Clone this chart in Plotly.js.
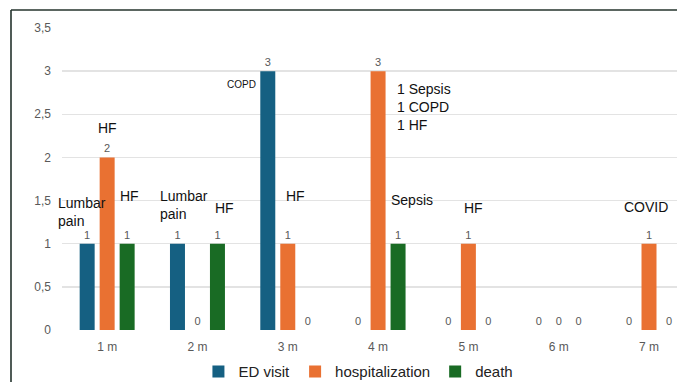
<!DOCTYPE html>
<html>
<head>
<meta charset="utf-8">
<script src="https://cdn.plot.ly/plotly-3.0.1.min.js"></script>
<style>
  html, body { margin: 0; padding: 0; background: #fff; }
  #chart { width: 677px; height: 382px; }
</style>
</head>
<body>
<div id="chart"></div>
<script>
// ---- data ----
const categories = ['1 m', '2 m', '3 m', '4 m', '5 m', '6 m', '7 m'];
const edVisit = [1, 1, 3, 0, 0, 0, 0];
const hospitalization = [2, 0, 1, 3, 1, 0, 1];
const death = [1, 1, 0, 1, 0, 0, 0];
const yTickValues = [0, 0.5, 1, 1.5, 2, 2.5, 3, 3.5];
const seriesNames = ['ED visit', 'hospitalization', 'death'];

// cause notes written next to bars
const noteTexts = ['Lumbar<br>pain', 'HF', 'HF', 'Lumbar<br>pain', 'HF', 'COPD', 'HF',
                   '1 Sepsis<br>1 COPD<br>1 HF', 'Sepsis', 'HF', 'COVID'];
const noteCategoryIndex = [0, 0, 0, 1, 1, 2, 2, 3, 3, 4, 6];

// ---- style / placement ----
const FONT = 'Liberation Sans, Arial, sans-serif';
const colors = ['#156082', '#E97132', '#196B24'];
const CAT_PX = 615 / 6.81;   // pixel width of one category
// offsets from category centre (category units), y in data units
const notePlacement = [
  {dx: -0.570, y: 1.372, xa: 'left'},
  {dx: 0.000, y: 2.340, xa: 'center'},
  {dx: 0.244, y: 1.551, xa: 'center'},
  {dx: -0.441, y: 1.447, xa: 'left'},
  {dx: 0.301, y: 1.412, xa: 'center'},
  {dx: -0.333, y: 2.850, xa: 'right', size: 10},
  {dx: 0.087, y: 1.551, xa: 'center'},
  {dx: 0.184, y: 2.584, xa: 'left'},
  {dx: 0.378, y: 1.505, xa: 'center'},
  {dx: 0.059, y: 1.412, xa: 'center'},
  {dx: -0.037, y: 1.423, xa: 'center'}
];

const values = [edVisit, hospitalization, death];
const traces = values.map((v, i) => ({
  type: 'bar',
  name: seriesNames[i],
  x: categories,
  y: v,
  marker: {color: colors[i]},
  texttemplate: '%{y}',
  textposition: 'outside',
  textfont: {family: FONT, size: 11, color: '#595959'},
  cliponaxis: false,
  hoverinfo: 'skip'
}));

const annotations = noteTexts.map((t, i) => ({
  text: t,
  x: noteCategoryIndex[i],
  xshift: notePlacement[i].dx * CAT_PX,
  y: notePlacement[i].y,
  xref: 'x', yref: 'y',
  xanchor: notePlacement[i].xa,
  yanchor: 'middle',
  align: 'left',
  showarrow: false,
  font: {family: FONT, size: notePlacement[i].size || 14, color: '#111111'}
}));

const layout = {
  width: 677, height: 382,
  margin: {l: 62, r: 0, t: 28, b: 52.3, pad: 0, autoexpand: false},
  paper_bgcolor: '#ffffff',
  plot_bgcolor: '#ffffff',
  separators: ', ',
  font: {family: FONT, color: '#595959'},
  barmode: 'group',
  bargap: 0.336,
  bargroupgap: 0.25,
  showlegend: true,
  legend: {
    orientation: 'h',
    x: 0.482, xanchor: 'center',
    y: -0.138, yanchor: 'middle',
    font: {family: FONT, size: 15, color: '#222222'},
    itemwidth: 30,
    traceorder: 'normal'
  },
  xaxis: {
    type: 'category',
    range: [-0.5, 6.31],
    showgrid: false,
    zeroline: false,
    showline: false,
    ticks: '',
    tickfont: {family: FONT, size: 12, color: '#595959'},
    ticklabelstandoff: 8,
    fixedrange: true
  },
  yaxis: {
    range: [0, 3.5],
    tickvals: yTickValues,
    ticktext: yTickValues.map(v => String(v).replace('.', ',')),
    showgrid: true,
    gridcolor: '#e3e3e3',
    gridwidth: 1.3,
    zeroline: false,
    showline: false,
    ticks: '',
    tickfont: {family: FONT, size: 12, color: '#595959'},
    ticklabelstandoff: 10,
    fixedrange: true
  },
  annotations: annotations,
  shapes: [
    {type: 'line', xref: 'paper', yref: 'paper',
     x0: (11 - 62) / 615, x1: (11 - 62) / 615, y0: 1.0597, y1: -0.2,
     line: {color: '#24332c', width: 1.6}},
    {type: 'line', xref: 'paper', yref: 'paper',
     x0: (11 - 62) / 615, x1: 1.05, y0: 1.0597, y1: 1.0597,
     line: {color: '#24332c', width: 1.6}}
  ]
};

Plotly.newPlot('chart', traces, layout, {staticPlot: true, displayModeBar: false});
</script>
</body>
</html>
